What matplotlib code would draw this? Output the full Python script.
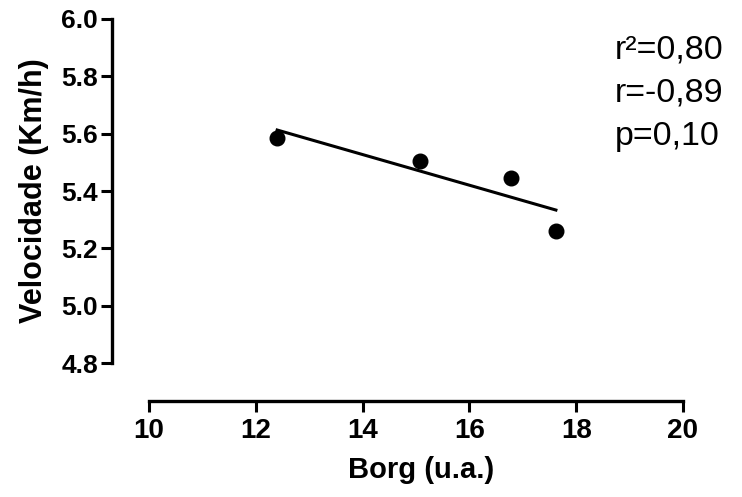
import numpy as np
import matplotlib
matplotlib.use("Agg")
import matplotlib.pyplot as plt

plt.rcParams['font.family'] = ['Liberation Sans', 'DejaVu Sans']

# data
borg = [12.4, 15.07, 16.78, 17.62]
velocidade = [5.585, 5.505, 5.445, 5.26]
xticks = [10, 12, 14, 16, 18, 20]
yticks = [4.8, 5.0, 5.2, 5.4, 5.6, 5.8, 6.0]
stats = ["r²=0,80", "r=-0,89", "p=0,10"]

fig = plt.figure(figsize=(7.42, 4.97), dpi=100)
ax = fig.add_axes([112/742, 96/497, 571/742, 382/497])

# linear fit over the data range
slope, icpt = np.polyfit(borg, velocidade, 1)
xf = np.array([min(borg), max(borg)])
ax.plot(xf, slope*xf + icpt, color='black', lw=2.2, zorder=2)
ax.plot(borg, velocidade, 'o', color='black', ms=10.5, zorder=3)

ax.set_xlim(10 - 37/53.4, 20)
ax.set_ylim(6.0 - 382/286.7, 6.0)

for s in ['top', 'right']:
    ax.spines[s].set_visible(False)
ax.spines['left'].set_bounds(4.8, 6.0)
ax.spines['bottom'].set_bounds(10, 20)
ax.spines['left'].set_linewidth(2.4)
ax.spines['bottom'].set_linewidth(2.4)

ax.set_xticks(xticks)
ax.set_yticks(yticks)
ax.set_yticklabels(["%.1f" % v for v in yticks])
ax.tick_params(axis='y', length=8, width=2.2, labelsize=19, pad=2)
ax.tick_params(axis='x', length=8, width=2.2, labelsize=20, pad=4)
for lab in ax.get_xticklabels() + ax.get_yticklabels():
    lab.set_fontweight('bold')

ax.set_xlabel("Borg (u.a.)", fontsize=21, fontweight='bold')
ax.set_ylabel("Velocidade (Km/h)", fontsize=22, fontweight='bold')
ax.xaxis.set_label_coords(0.541, -0.145)
ax.yaxis.set_label_coords(-0.11, 0.552)

for i, t in enumerate(stats):
    fig.text(615/742, 1 - (50 + 43*i)/497, t, fontsize=24.5, va='center', ha='left')

fig.savefig("out.png", dpi=100)
